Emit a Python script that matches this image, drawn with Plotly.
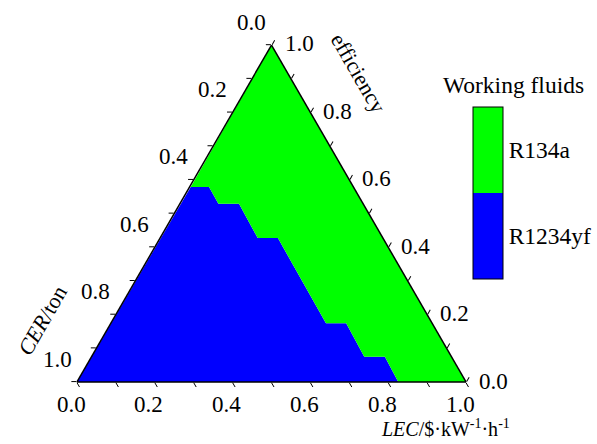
import plotly.graph_objects as go

# Boundary between the two regions (efficiency = top, CER = bottom-left, LEC = bottom-right)
boundary_eff = [0.579, 0.579, 0.529, 0.529, 0.427, 0.427, 0.174, 0.174, 0.075, 0.075, 0.0]
boundary_cer = [0.418, 0.371, 0.372, 0.319, 0.322, 0.270, 0.273, 0.221, 0.224, 0.171, 0.174]
boundary_lec = [round(1 - e - c, 3) for e, c in zip(boundary_eff, boundary_cer)]

fluids = ["R1234yf", "R134a"]
fluid_colors = ["#0000FF", "#00FF00"]

tick_vals = [0.0, 0.1, 0.2, 0.3, 0.4, 0.5, 0.6, 0.7, 0.8, 0.9, 1.0]
label_vals = [0.0, 0.2, 0.4, 0.6, 0.8, 1.0]

FONT = "Liberation Serif"
W, H = 597, 444
# triangle geometry in pixels (for placing the Origin-style tick labels)
X_BL, X_BR, Y_BASE, Y_TOP = 77, 466, 382, 45
TW, TH = X_BR - X_BL, Y_BASE - Y_TOP


def px(a, c):
    return X_BL + TW * (c + a / 2), Y_BASE - TH * a


def paper(x, y):
    return x / W, 1 - y / H


fig = go.Figure()

# Blue region (R1234yf)
blue_a = boundary_eff + [0.0, boundary_eff[0]]
blue_b = boundary_cer + [1.0, boundary_cer[0]]
blue_c = boundary_lec + [0.0, boundary_lec[0]]
fig.add_trace(go.Scatterternary(a=blue_a, b=blue_b, c=blue_c, mode="lines",
                                fill="toself", fillcolor=fluid_colors[0],
                                line=dict(width=0, color=fluid_colors[0]),
                                hoverinfo="skip", showlegend=False))

# Green region (R134a)
green_a = boundary_eff + [0.0, 1.0, boundary_eff[0]]
green_b = boundary_cer + [0.0, 0.0, boundary_cer[0]]
green_c = boundary_lec + [1.0, 0.0, boundary_lec[0]]
fig.add_trace(go.Scatterternary(a=green_a, b=green_b, c=green_c, mode="lines",
                                fill="toself", fillcolor=fluid_colors[1],
                                line=dict(width=0, color=fluid_colors[1]),
                                hoverinfo="skip", showlegend=False))

# Invisible trace carrying the discrete colour legend
fig.add_trace(go.Scatterternary(
    a=[0.5, 0.5], b=[0.25, 0.25], c=[0.25, 0.25], mode="markers",
    marker=dict(size=1, opacity=0, color=[0, 1], cmin=0, cmax=1,
                colorscale=[[0, fluid_colors[0]], [0.5, fluid_colors[0]],
                            [0.5, fluid_colors[1]], [1, fluid_colors[1]]],
                showscale=True,
                colorbar=dict(x=473/W, xanchor="left", y=1-193/H, yanchor="middle",
                              len=172, lenmode="pixels", thickness=30, thicknessmode="pixels",
                              outlinewidth=1, outlinecolor="black",
                              tickvals=[0.25, 0.75], ticktext=fluids,
                              ticks="", tickfont=dict(family=FONT, size=23.5, color="black"),
                              xpad=0, ypad=0)),
    hoverinfo="skip", showlegend=False))

axis_common = dict(tickvals=tick_vals, ticks="outside", ticklen=5,
                   tickwidth=1, tickcolor="black", linecolor="black", linewidth=1.5,
                   showgrid=False, showticklabels=False,
                   title=dict(text=""), min=0)

annotations = []
tick_font = dict(family=FONT, size=23, color="black")
for v in label_vals:
    txt = "%.1f" % v
    # left edge: CER (1 at bottom-left vertex)
    x, y = px(1 - v, 0)
    xp, yp = paper(x - 20, y - 23)
    annotations.append(dict(text=txt, x=xp, y=yp, xref="paper", yref="paper", showarrow=False,
                            xanchor="center", yanchor="middle", font=tick_font))
    # bottom edge: LEC (1 at bottom-right vertex)
    x, y = px(0, v)
    xp, yp = paper(x - 6, y + 22)
    annotations.append(dict(text=txt, x=xp, y=yp, xref="paper", yref="paper", showarrow=False,
                            xanchor="center", yanchor="middle", font=tick_font))
    # right edge: efficiency (1 at top vertex)
    x, y = px(v, 1 - v)
    xp, yp = paper(x + 11, y - 1)
    annotations.append(dict(text=txt, x=xp, y=yp, xref="paper", yref="paper", showarrow=False,
                            xanchor="left", yanchor="middle", font=tick_font))

annotations += [
    dict(text="Working fluids", x=513/W, y=1-85/H, xref="paper", yref="paper",
         showarrow=False, xanchor="center", yanchor="middle",
         font=dict(family=FONT, size=23.5)),
    dict(text="efficiency", x=359/W, y=1-73/H, xref="paper", yref="paper",
         showarrow=False, textangle=60, xanchor="center", yanchor="middle",
         font=dict(family=FONT, size=22)),
    dict(text="<i>CER</i>/ton", x=42/W, y=1-320/H, xref="paper", yref="paper",
         showarrow=False, textangle=-60, xanchor="center", yanchor="middle",
         font=dict(family=FONT, size=22)),
    dict(text="<i>LEC</i>/$·kW<sup>-1</sup>·h<sup>-1</sup>", x=445/W, y=1-428/H,
         xref="paper", yref="paper", showarrow=False, xanchor="center", yanchor="middle",
         font=dict(family=FONT, size=20)),
]

fig.update_layout(
    width=W, height=H, autosize=False,
    margin=dict(l=0, r=0, t=0, b=0),
    paper_bgcolor="white", plot_bgcolor="white",
    font=dict(family=FONT, size=22, color="black"),
    ternary=dict(
        domain=dict(x=[X_BL/W, X_BR/W], y=[1-Y_BASE/H, 1-Y_TOP/H]),
        sum=1, bgcolor="white",
        aaxis=axis_common, baxis=axis_common, caxis=axis_common,
    ),
    annotations=annotations,
)

fig.write_html("out.html")
